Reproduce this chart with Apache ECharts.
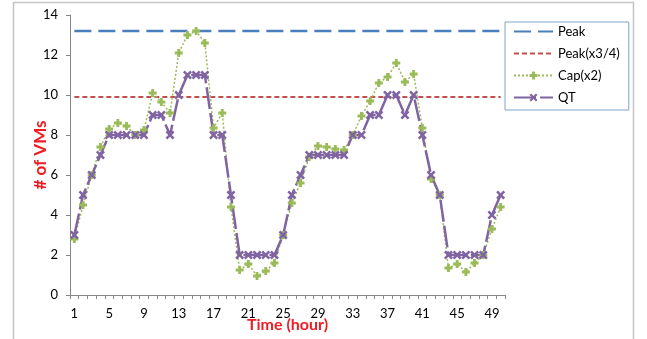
<!DOCTYPE html>
<html><head><meta charset="utf-8">
<script src="https://cdn.jsdelivr.net/npm/echarts@6/dist/echarts.min.js"></script>
<style>html,body{margin:0;padding:0;background:#fff;overflow:hidden}#c{width:647px;height:339px}</style>
</head><body><div id="c"></div>
<script>
const hours = Array.from({length:50},(_,i)=>String(i+1));
const peakValue = 13.2;
const peak34Value = 9.9;
const capX2 = [2.8,4.5,6,7.4,8.3,8.6,8.45,8.0,8.25,10.1,9.65,9.1,12.1,13.0,13.2,12.6,8.35,9.1,4.4,1.25,
  1.55,0.95,1.2,1.6,3,4.6,5.6,6.9,7.45,7.4,7.3,7.25,8,8.95,9.7,10.6,10.9,11.6,10.65,11.05,
  8.35,5.8,5,1.35,1.55,1.15,1.6,2,3.3,4.4];
const qt = [3,5,6,7,8,8,8,8,8,9,9,8,10,11,11,11,8,8,5,2,2,2,2,2,3,5,6,7,7,7,
  7,7,8,8,9,9,10,10,9,10,8,6,5,2,2,2,2,2,4,5];
const yTicks = {min:0,max:14,interval:2};

const FONT = 'Lato';
const plusPath = 'path://M3.2,0h3.6v3.2h3.2v3.6h-3.2v3.2h-3.6v-3.2h-3.2v-3.6h3.2z';
const xPath = 'path://M0,2 L2,0 L5,3 L8,0 L10,2 L7,5 L10,8 L8,10 L5,7 L2,10 L0,8 L3,5 Z';
const NONE = 'rgba(0,0,0,0)';

const chart = echarts.init(document.getElementById('c'));
chart.setOption({
  animation:false,
  textStyle:{fontFamily:FONT},
  graphic:[{type:'rect',shape:{x:13.5,y:2.5,width:620,height:350},style:{fill:'none',stroke:'#c4c4c4',lineWidth:1.5},z:-1}],
  grid:{left:70,right:142,top:15,bottom:44,containLabel:false,outerBoundsMode:'none'},
  legend:{
    orient:'vertical',left:505,top:22,
    padding:[3,9,6,8],itemGap:9,itemWidth:39,itemHeight:10,
    borderColor:'#7fa3d3',borderWidth:1,
    textStyle:{fontFamily:FONT,fontSize:13,color:'#000'},
    data:['Peak','Peak(x3/4)','Cap(x2)','QT']
  },
  xAxis:{
    type:'category',data:hours,boundaryGap:true,
    axisLine:{lineStyle:{color:'#868686',width:1}},
    axisTick:{show:true,interval:0,length:4,inside:false,lineStyle:{color:'#868686'}},
    axisLabel:{interval:3,color:'#000',fontSize:13,margin:12,fontFamily:FONT},
    name:'Time (hour)',nameLocation:'middle',nameGap:22,nameMoveOverlap:false,
    nameTextStyle:{color:'#ee1c25',fontWeight:'bold',fontSize:16,fontFamily:FONT}
  },
  yAxis:{
    type:'value',min:yTicks.min,max:yTicks.max,interval:yTicks.interval,
    splitLine:{show:false},
    axisLine:{show:true,lineStyle:{color:'#868686'}},
    axisTick:{show:true,length:4,lineStyle:{color:'#868686'}},
    axisLabel:{color:'#000',fontSize:13,margin:12,fontFamily:FONT},
    name:'# of VMs',nameLocation:'middle',nameGap:21,nameRotate:90,nameMoveOverlap:false,
    nameTextStyle:{color:'#ee1c25',fontWeight:'bold',fontSize:17,fontFamily:FONT}
  },
  series:[
    {name:'Peak',type:'line',data:hours.map(()=>peakValue),symbol:'none',
     lineStyle:{color:'#4a7ebb',width:2.5,type:[17,7]},itemStyle:{color:NONE}},
    {name:'Peak(x3/4)',type:'line',data:hours.map(()=>peak34Value),symbol:'none',
     lineStyle:{color:'#c0504d',width:2,type:[5,3]},itemStyle:{color:NONE}},
    {name:'Cap(x2)',type:'line',data:capX2,symbol:plusPath,symbolSize:8,showAllSymbol:true,
     lineStyle:{color:'#9bbb59',width:1.5,type:[2,2]},itemStyle:{color:'#9bbb59'}},
    {name:'QT',type:'line',data:qt,symbol:xPath,symbolSize:9,showAllSymbol:true,
     lineStyle:{color:'#8064a2',width:2.5,type:[22,4]},itemStyle:{color:'#8064a2'}}
  ]
});
</script></body></html>
